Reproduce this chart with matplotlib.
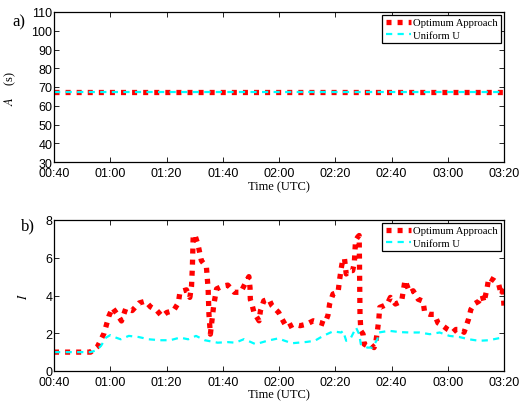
import numpy as np
import matplotlib
matplotlib.use("Agg")
import matplotlib.pyplot as plt
from matplotlib.ticker import FuncFormatter, MultipleLocator

# datos (tiempo en minutos desde 00:00 UTC)
t_top = [40, 200]
a_opt = [67.3, 67.3]
a_uni = [67.6, 67.6]

t_opt = [40, 53, 55.5, 57.8, 59.5, 60.8, 62.5, 64.0, 65.5, 67.8, 70.2, 72.5, 74.3,
         76.6, 78.4, 80.1, 82.5, 84.2, 84.8, 87.1, 88.3, 88.9, 89.2, 89.5, 90.1,
         91.2, 92.4, 94.2, 94.8, 95.1, 95.6, 96.8, 97.8, 100, 101.8, 104.1, 106.4,
         108.2, 109.3, 109.7, 109.8, 110.5, 111.1, 112.9, 113.4, 114.6, 116.4,
         117.5, 118.7, 119.9, 121.1, 122.8, 125.2, 127.5, 129.8, 132.2, 134.5,
         136.2, 137.4, 138.0, 139.2, 141.0, 141.5, 142.1, 142.7, 143.3, 143.9,
         145.0, 146.2, 146.8, 147.2, 148.0, 148.5, 148.6, 148.8, 149.1, 149.9,
         150.3, 151.4, 152.6, 153.8, 154.4, 155.0, 155.5, 155.8, 157.3, 158.5,
         159.6, 161.4, 163.6, 164.8, 166.5, 167.7, 169.5, 171.2, 171.8, 173.6,
         175.3, 176.5, 178.2, 180.0, 181.8, 182.9, 184.7, 185.8, 187.4, 188.2,
         189.4, 191.1, 192.3, 192.9, 194.0, 194.6, 196.4, 198.1, 198.7, 199.3,
         199.6, 200]
i_opt = [1.0, 1.0, 1.3, 2.0, 2.9, 3.35, 3.0, 2.65, 3.3, 3.2, 3.6, 3.7, 3.4,
         3.2, 2.9, 3.1, 3.2, 3.6, 4.2, 4.3, 3.9, 4.5, 5.5, 7.2, 7.2,
         6.7, 5.85, 5.5, 4.35, 3.0, 1.95, 3.5, 4.35, 4.5, 4.55, 4.17, 4.17,
         4.7, 5.0, 4.4, 3.8, 3.46, 3.1, 2.66, 3.19, 3.72, 3.81,
         3.46, 3.28, 3.1, 2.75, 2.3, 2.48, 2.4, 2.48, 2.66, 2.57,
         2.48, 2.95, 3.55, 4.08, 4.17, 4.79, 5.41, 5.94, 5.94, 5.14,
         5.32, 5.32, 5.77, 6.9, 7.1, 7.18, 6.0, 3.0, 2.13, 1.95,
         1.42, 1.33, 1.42, 1.24, 1.51, 2.13, 2.75, 3.37, 3.46, 3.55,
         3.9, 3.55, 3.7, 4.8, 4.15, 4.25, 3.8, 3.7, 3.1, 3.0,
         3.0, 2.55, 2.4, 2.2, 2.05, 2.2, 2.2, 2.05, 2.75, 3.25,
         3.55, 3.7, 4.0, 3.65, 4.4, 4.95, 4.8, 4.6, 4.25, 4.05,
         4.5, 3.4]

t_uni = [40, 53, 55.1, 56.7, 58.5, 60, 62, 63.7, 66.6, 70.1, 73.7, 77.8, 81.3,
         84.8, 87.7, 90.5, 93.6, 98.2, 101.8, 104.5, 107.6, 111.7, 115.8, 119.8,
         121.5, 124.6, 129.8, 132.7, 135.7, 139.2, 142.1, 142.8, 143.9, 145.6,
         147.4, 148.5, 149.1, 151.4, 153.2, 155.0, 155.5, 159.1, 163.0, 166.5,
         170, 173.6, 177.1, 180.6, 184.1, 187.6, 191.1, 194.6, 199.3, 200]
i_uni = [1.0, 1.0, 1.1, 1.33, 1.77, 1.9, 1.77, 1.68, 1.86, 1.8, 1.68, 1.63, 1.63,
         1.77, 1.68, 1.86, 1.63, 1.5, 1.53, 1.5, 1.69, 1.42, 1.6, 1.73,
         1.63, 1.47, 1.54, 1.6, 1.86, 2.1, 2.04, 2.12, 1.6, 1.77,
         2.3, 1.95, 1.42, 1.24, 1.24, 1.69, 2.04, 2.13, 2.06, 2.04,
         2.04, 1.95, 2.04, 1.86, 1.8, 1.68, 1.6, 1.63, 1.77, 1.78]

xticks = np.arange(40, 201, 20)

sans = 'Liberation Sans'
serif = 'Liberation Serif'
plt.rcParams['mathtext.fontset'] = 'stix'

def hhmm(x, pos):
    return '%02d:%02d' % (int(x) // 60, int(x) % 60)

def style(ax, ylim, ystep, xlab_y):
    ax.set_xlim(40, 200)
    ax.set_ylim(*ylim)
    ax.set_xticks(xticks)
    ax.xaxis.set_major_formatter(FuncFormatter(hhmm))
    ax.yaxis.set_major_locator(MultipleLocator(ystep))
    ax.tick_params(direction='in', top=True, right=True, length=3.5, width=0.6,
                   labelsize=9)
    ax.tick_params(axis='x', pad=3.5)
    ax.tick_params(axis='y', pad=1.2)
    for lab in ax.get_xticklabels() + ax.get_yticklabels():
        lab.set_family(sans)
    for sp in ax.spines.values():
        sp.set_linewidth(0.9)
    ax.set_xlabel('Time (UTC)', family=serif, fontsize=9)
    ax.xaxis.set_label_coords(0.5, xlab_y)
    ax.xaxis.label.set_va('top')
    ax.legend(loc='upper right', prop={'family': serif, 'size': 7.7},
              fancybox=False, edgecolor='black', framealpha=1,
              borderaxespad=0.25, handlelength=2.4, handletextpad=0.2,
              labelspacing=0.25, borderpad=0.3).get_frame().set_linewidth(0.9)

fig = plt.figure(figsize=(5.31, 4.02), dpi=100)
ax1 = fig.add_axes([54/531, 1-163/402, 450/531, 150/402])
ax2 = fig.add_axes([54/531, 1-372/402, 450/531, 151/402])

red_kw = dict(color='red', lw=3.8, linestyle=(0, (0.95, 1.15)))
cyan_kw = dict(color='cyan', lw=1.6, linestyle=(0, (2.8, 2.4)))

ax1.plot(t_top, a_opt, label='Optimum Approach', **red_kw)
ax1.plot(t_top, a_uni, label='Uniform U', **cyan_kw)
style(ax1, (30, 110), 10, -0.12)
ax1.set_ylabel('$A$    (s)', family=serif, fontsize=9)
ax1.yaxis.set_label_coords(-0.08, 0.5)

ax2.plot(t_opt, i_opt, label='Optimum Approach', **red_kw)
ax2.plot(t_uni, i_uni, label='Uniform U', **cyan_kw)
style(ax2, (0, 8), 2, -0.116)
ax2.set_ylabel('$I$', family=serif, fontsize=9)
ax2.yaxis.set_label_coords(-0.053, 0.5)

fig.text(12/531, 1-22/402, 'a)', family=serif, fontsize=12, va='center')
fig.text(20.5/531, 1-226/402, 'b)', family=serif, fontsize=12, va='center')

fig.savefig('out.png', dpi=100)
